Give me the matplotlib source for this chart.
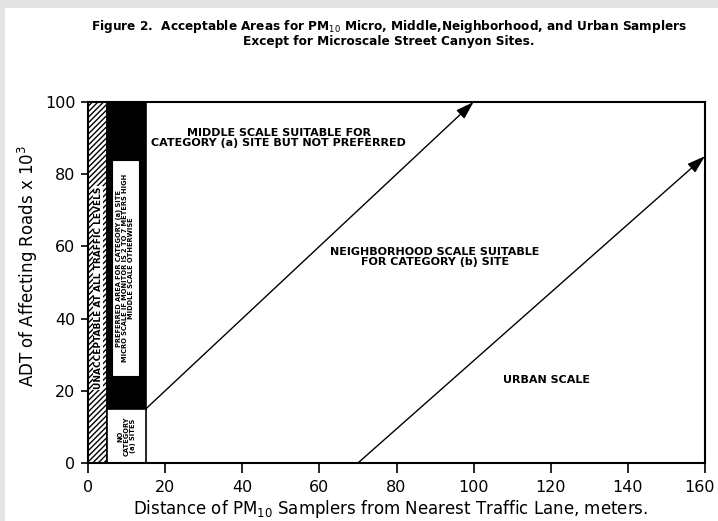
import matplotlib
matplotlib.use("Agg")
import matplotlib.pyplot as plt
from matplotlib.patches import Rectangle
from matplotlib.transforms import ScaledTranslation

# ---- data ----
x_ticks = [0, 20, 40, 60, 80, 100, 120, 140, 160]
y_ticks = [0, 20, 40, 60, 80, 100]
hatch_x = [0, 5]          # unacceptable zone
black_x = [5, 15]         # preferred zone (micro/middle)
black_y = [15, 100]
nocat_y = [0, 15]
inner_box_x = [6.2, 13.2]
inner_box_y = [24, 84]
middle_line_x = [15, 100]
middle_line_y = [15, 100]
urban_line_x = [70, 160]
urban_line_y = [0, 85]

fig = plt.figure(figsize=(7.18, 5.21), dpi=100)
fig.patch.set_facecolor("white")
# gray frame strips (top, left)
fig.add_artist(Rectangle((0, 1 - 8 / 521), 1, 8 / 521, transform=fig.transFigure,
                         facecolor="#e4e4e4", edgecolor="none", zorder=-5))
fig.add_artist(Rectangle((0, 0), 5 / 718, 1, transform=fig.transFigure,
                         facecolor="#e4e4e4", edgecolor="none", zorder=-5))

ax = fig.add_axes([88 / 718, 58 / 521, 617 / 718, 361 / 521])
ax.set_xlim(0, 160)
ax.set_ylim(0, 100)
ax.set_xticks(x_ticks)
ax.set_yticks(y_ticks)
ax.tick_params(axis="x", direction="out", length=7, width=1.2, labelsize=11.5, pad=5)
ax.tick_params(axis="y", direction="out", length=5, width=1.2, labelsize=11.5, pad=4)
for s in ax.spines.values():
    s.set_linewidth(1.5)
fig.canvas.draw()
last = ax.get_xticklabels()[-1]
last.set_transform(last.get_transform() + ScaledTranslation(-4 / 72, 0, fig.dpi_scale_trans))

# hatched unacceptable region
ax.add_patch(Rectangle((hatch_x[0], 0), hatch_x[1] - hatch_x[0], 100,
                       facecolor="white", edgecolor="black", hatch="//////", linewidth=1.2, zorder=2))
# black preferred region
ax.add_patch(Rectangle((black_x[0], black_y[0]), black_x[1] - black_x[0], black_y[1] - black_y[0],
                       facecolor="black", edgecolor="black", linewidth=1.2, zorder=2))
# no category box
ax.add_patch(Rectangle((black_x[0], nocat_y[0]), black_x[1] - black_x[0], nocat_y[1] - nocat_y[0],
                       facecolor="white", edgecolor="black", linewidth=1.2, zorder=2))
# inner white box
ax.add_patch(Rectangle((inner_box_x[0], inner_box_y[0]), inner_box_x[1] - inner_box_x[0],
                       inner_box_y[1] - inner_box_y[0],
                       facecolor="white", edgecolor="black", linewidth=0.8, zorder=3))

# boundary lines with arrows
for lx, ly in [(middle_line_x, middle_line_y), (urban_line_x, urban_line_y)]:
    ax.annotate("", xy=(lx[1], ly[1]), xytext=(lx[0], ly[0]),
                arrowprops=dict(arrowstyle="-|>,head_length=1.1,head_width=0.35",
                                color="black", lw=1.0, shrinkA=0, shrinkB=0),
                zorder=4, annotation_clip=False)

# region labels
kw = dict(fontweight="bold", ha="center", va="center", color="black", zorder=5)
ax.text(49.5, 90, "MIDDLE SCALE SUITABLE FOR\nCATEGORY (a) SITE BUT NOT PREFERRED",
        fontsize=8, linespacing=1.0, **kw)
ax.text(90, 57, "NEIGHBORHOOD SCALE SUITABLE\nFOR CATEGORY (b) SITE",
        fontsize=8, linespacing=1.0, **kw)
ax.text(119, 23, "URBAN SCALE", fontsize=8, **kw)
ax.text(2.6, 48.5, "UNACCEPTABLE AT ALL TRAFFIC LEVELS", fontsize=6.5, rotation=90,
        bbox=dict(facecolor="white", edgecolor="none", pad=0.5), **kw)
ax.text(9.7, 54, "PREFERRED AREA FOR CATEGORY (a) SITE\nMICRO SCALE IF MONITOR IS 2 TO 7 METERS HIGH\nMIDDLE SCALE OTHERWISE",
        fontsize=4.8, rotation=90, linespacing=1.0, **kw)
ax.text(10, 7.5, "NO\nCATEGORY\n(a) SITES", fontsize=4.8, rotation=90, linespacing=1.0, **kw)

ax.set_xlabel("Distance of PM$_{10}$ Samplers from Nearest Traffic Lane, meters.", fontsize=12)
ax.xaxis.set_label_coords(0.49, -0.098)
ax.set_ylabel("ADT of Affecting Roads x 10$^3$", fontsize=12)
ax.yaxis.set_label_coords(-0.078, 0.546)

fig.text(0.542, 1 - 33 / 521,
         "Figure 2.  Acceptable Areas for PM$_{10}$ Micro, Middle,Neighborhood, and Urban Samplers\n"
         "Except for Microscale Street Canyon Sites.",
         ha="center", va="center", fontsize=8.7, fontweight="bold", linespacing=1.0)

fig.savefig("out.png", dpi=100, facecolor="white")
